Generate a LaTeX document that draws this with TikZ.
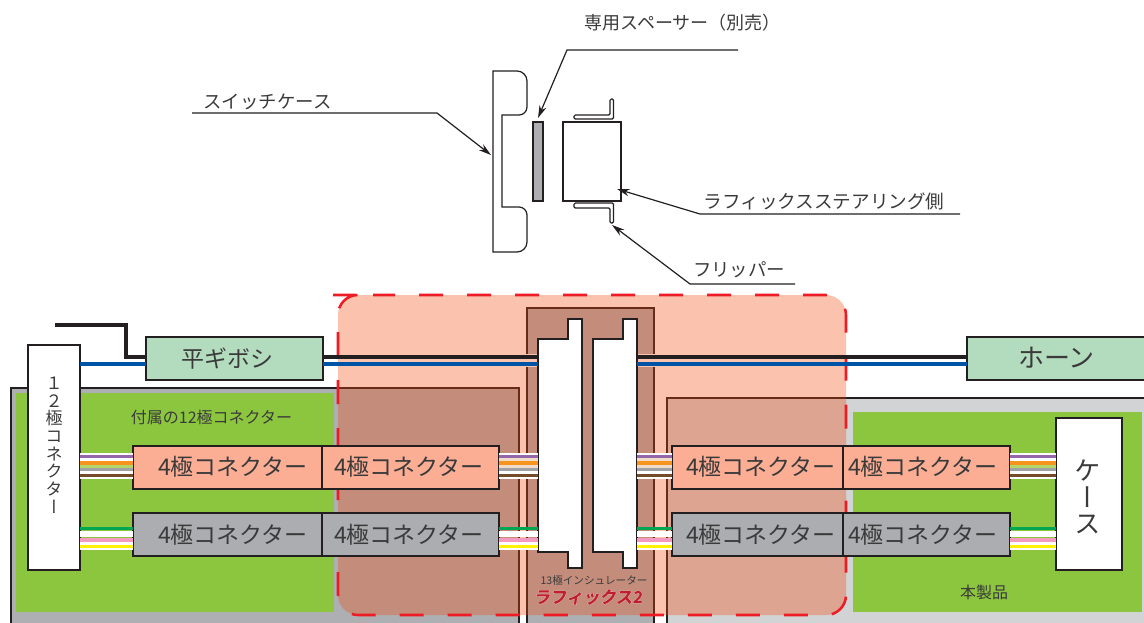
\documentclass[tikz,border=0pt]{standalone}
\usepackage{fontspec}
\usetikzlibrary{arrows.meta}
\pgfdeclarelayer{under}
\pgfsetlayers{under,main}
\setmainfont{Noto Sans CJK JP}
\newfontfamily\jpvert[RawFeature={+vert}]{Noto Sans CJK JP}
\newfontfamily\jplogo[FakeSlant=0.12,FakeBold=0.8]{Noto Sans CJK JP Bold}
\newfontfamily\jphalo[FakeSlant=0.12,FakeBold=3]{Noto Sans CJK JP Bold}
\definecolor{ink}{HTML}{231F20}
\definecolor{txt}{HTML}{3A3A3A}
\definecolor{panelA}{HTML}{ADAFB2}
\definecolor{panelB}{HTML}{D1D3D4}
\definecolor{pcb}{HTML}{8CC63F}
\definecolor{mint}{HTML}{B3DCBF}
\definecolor{salmon}{HTML}{FBAE94}
\definecolor{greybox}{HTML}{ABADB0}
\definecolor{overlay}{HTML}{F34609}
\definecolor{dashred}{HTML}{ED1C24}
\definecolor{logored}{HTML}{BE1E2D}
\definecolor{wpurple}{HTML}{9467AD}
\definecolor{worange}{HTML}{F7941D}
\definecolor{wlime}{HTML}{B5D56A}
\definecolor{wpale}{HTML}{F0DCC8}
\definecolor{wgrey}{HTML}{A0A2A5}
\definecolor{wbrown}{HTML}{754C29}
\definecolor{wgreen}{HTML}{00A651}
\definecolor{wpink}{HTML}{F49AC1}
\definecolor{wyellow}{HTML}{FFF200}
\definecolor{wblue}{HTML}{0054A6}
\newcommand\pxs[1]{\pgfmathparse{#1*0.75}\fontsize{\pgfmathresult pt}{\pgfmathresult pt}\selectfont}
\newcommand\pxbox[7]{%
  \pgfmathsetmacro\bw{(#4-#2)*0.75}\pgfmathsetmacro\bh{(#5-#3)*0.75}%
  \node[#6,minimum width=\bw pt,minimum height=\bh pt] (#1) at ({(#2+#4)/2},{(#3+#5)/2}) {#7};}
\newcommand\wirerow[4]{%
  \foreach \yy/\cc in #3 {\draw[#4,draw=\cc] (#1 |- 0,\yy) -- (#2 |- 0,\yy);}}
\tikzset{
  boxbase/.style={draw=ink,line width=1.2pt,inner sep=0pt,outer sep=0pt,text=txt},
  salmonbox/.style={boxbase,fill=salmon},
  greyconn/.style={boxbase,fill=greybox},
  mintbox/.style={boxbase,fill=mint},
  whitebox/.style={boxbase,fill=white,align=center},
  wire/.style={line width=2.3pt},
  hwire/.style={line width=2.3pt},
  thinline/.style={draw=ink,line width=.9pt},
  callout/.style={thinline,-{Stealth[length=9.5pt,width=5.5pt]}},
  label/.style={text=txt,inner sep=0pt,outer sep=0pt},
  ins/.style={draw=ink,line width=2.2pt,fill=white,line join=miter},
}
\begin{document}
\begin{tikzpicture}[x=.75pt,y=-.75pt]
\useasboundingbox (0,0) rectangle (1144,622);

% top assembly
\draw[thinline] (493,71) -- (517,71) arc[start angle=-90,end angle=0,radius=10] -- (527,107)
  arc[start angle=0,end angle=90,radius=8] -- (502,115) -- (502,207) -- (519,207)
  arc[start angle=-90,end angle=0,radius=8] -- (527,242)
  arc[start angle=0,end angle=90,radius=10] -- (493,252) -- cycle;
\pxbox{spacer}{533}{122}{543}{201}{draw=ink,line width=.9pt,fill=panelA,inner sep=0pt,outer sep=0pt}{}
\pxbox{body}{563}{122}{621}{201}{draw=ink,line width=.9pt,inner sep=0pt,outer sep=0pt}{}
\draw[thinline,rounded corners=1pt] (574,115) -- (610,115) -- (610,99) -- (613.5,99) -- (613.5,119) -- (574,119) -- cycle;
\draw[thinline,rounded corners=1pt] (574,203) -- (613.5,203) -- (613.5,223) -- (610,223) -- (610,208) -- (574,208) -- cycle;

\node[label,font=\pxs{18}] (tSpacer) at (682.5,23) {専用スペーサー（別売）};
\node[label,font=\pxs{18.4}] (tCase) at (267.5,102) {スイッチケース};
\node[label,font=\pxs{18.6}] (tSide) at (824,201) {ラフィックスステアリング側};
\node[label,font=\pxs{18.4}] (tFlip) at (739,270) {フリッパー};

\coordinate (sp0) at (738,50); \coordinate (sp1) at (567,50); \coordinate (spT) at (538,118);
\coordinate (ca0) at (192,113); \coordinate (ca1) at (437,113); \coordinate (caT) at (491,155);
\coordinate (si0) at (960,214); \coordinate (si1) at (700,214); \coordinate (siT) at (617,189);
\coordinate (fl0) at (795,284); \coordinate (fl1) at (690,284); \coordinate (flT) at (612,225);
\draw[callout] (sp0) -- (sp1) -- (spT);
\draw[callout] (ca0) -- (ca1) -- (caT);
\draw[callout] (si0) -- (si1) -- (siT);
\draw[callout] (fl0) -- (fl1) -- (flT);

% nodes
\coordinate (bL) at (538,0); \coordinate (bR) at (637,0);
\pxbox{twelve}{28}{345}{80}{570}{whitebox}{}
\pxbox{caseBox}{1056}{418}{1122}{570}{whitebox}{}
\pxbox{gibo}{146}{337}{323}{380}{mintbox}{}
\pxbox{horn}{967}{337}{1160}{380}{mintbox}{}
\pxbox{a1}{133}{446}{322}{489}{salmonbox}{}
\pxbox{a2}{322}{446}{499}{489}{salmonbox}{}
\pxbox{a3}{672}{446}{843}{489}{salmonbox}{}
\pxbox{a4}{843}{446}{1010}{489}{salmonbox}{}
\pxbox{b1}{133}{513}{322}{556}{greyconn}{}
\pxbox{b2}{322}{513}{499}{556}{greyconn}{}
\pxbox{b3}{672}{513}{843}{556}{greyconn}{}
\pxbox{b4}{843}{513}{1010}{556}{greyconn}{}

\begin{pgfonlayer}{under}
% panels
\pxbox{panelL}{11}{388}{519}{640}{draw=ink,line width=1.3pt,fill=panelA,outer sep=0pt}{}
\pxbox{panelC}{527}{308}{654}{640}{draw=ink,line width=1.3pt,fill=panelA,outer sep=0pt}{}
\pxbox{panelR}{667}{398}{1160}{640}{draw=ink,line width=1.3pt,fill=panelB,outer sep=0pt}{}
\pxbox{pcbL}{16}{393}{334}{612}{fill=pcb,outer sep=0pt}{}
\pxbox{pcbR}{853}{412}{1142}{612}{fill=pcb,outer sep=0pt}{}
% translucent overlay
\fill[white] (gibo.east |- 0,354) rectangle (bL |- 0,367);
\fill[white] (bR |- 0,354) rectangle (horn.west |- 0,367);
\path[fill=overlay,fill opacity=.33,rounded corners=15] (338,295) rectangle (846,615);
\draw[dashred,line width=1.9pt,rounded corners=15,dash pattern=on 18pt off 18pt,dash phase=1.5pt]
  (353,295) -- (846,295) -- (846,615) -- (338,615) -- (338,295) -- cycle;
\end{pgfonlayer}

% insulators
\draw[ins] (538,339) -- (568,339) -- (568,319) -- (582,319) -- (582,568) -- (568,568) -- (568,552) -- (538,552) -- cycle;
\draw[ins] (593,339) -- (623,339) -- (623,319) -- (637,319) -- (637,568) -- (623,568) -- (623,552) -- (593,552) -- cycle;

% signal wires
\def\upperset{454.2/white,459.6/white,472.8/white,477.6/white,456.2/wpurple,463/worange,466.4/wlime,469.6/wgrey,475.6/wbrown}
\def\uppermid{454.2/white,459.6/wpale,466.4/wpale,472.8/white,477.6/white,456.2/wpurple,463/worange,469.6/wgrey,475.6/wbrown}
\def\lowerset{532.5/white,535.5/white,543.5/white,548.6/white,528.5/wgreen,540/wpink,546.5/wyellow}
\foreach \aa/\bb in {twelve.east/a1.west,a4.east/caseBox.west}{\wirerow{\aa}{\bb}{\upperset}{wire}}
\foreach \aa/\bb in {a2.east/bL,bR/a3.west}{\wirerow{\aa}{\bb}{\uppermid}{wire}}
\foreach \aa/\bb in {twelve.east/b1.west,b2.east/bL,bR/b3.west,b4.east/caseBox.west}{\wirerow{\aa}{\bb}{\lowerset}{wire}}

% horn wires
\coordinate (blk0) at (55,325); \coordinate (blk1) at (126,325); \coordinate (blk2) at (126,357);
\draw[ink,hwire,line join=miter] (blk0) -- (blk1) -- (blk2) -- (gibo.west |- blk2);
\draw[wblue,hwire] (twelve.east |- 0,364) -- (gibo.west |- 0,364);
\draw[ink,hwire] (gibo.east |- 0,357) -- (bL |- 0,357);
\draw[wblue,hwire] (gibo.east |- 0,364) -- (bL |- 0,364);
\draw[ink,hwire] (bR |- 0,357) -- (horn.west |- 0,357);
\draw[wblue,hwire] (bR |- 0,364) -- (horn.west |- 0,364);

% texts
\node[label,font=\pxs{23}] (tGibo) at (227.5,359) {平ギボシ};
\node[label,font=\pxs{26}] (tHorn) at (1056.5,358) {ホーン};
\node[label,font=\pxs{23}] (t1) at (233,467) {4極コネクター};
\node[label,font=\pxs{23}] (t2) at (409,467) {4極コネクター};
\node[label,font=\pxs{23}] (t3) at (761,467) {4極コネクター};
\node[label,font=\pxs{23}] (t4) at (923,467) {4極コネクター};
\node[label,font=\pxs{23}] (t5) at (233,535) {4極コネクター};
\node[label,font=\pxs{23}] (t6) at (409,535) {4極コネクター};
\node[label,font=\pxs{23}] (t7) at (761,535) {4極コネクター};
\node[label,font=\pxs{23}] (t8) at (923,535) {4極コネクター};
\node[label,font=\pxs{16}] (tAcc) at (211.5,417) {付属の12極コネクター};
\node[label,font=\pxs{16}] (tProd) at (984,592) {本製品};
\node[label,font=\pxs{10.6}] (tIns) at (594,580) {13極インシュレーター};
\node[label,font=\pxs{16.6}] (tLogo) at (588,597) {\rlap{\jphalo\color{white}ラフィックス2}{\jplogo\color{logored}ラフィックス2}};
\node[label,align=center,font=\jpvert\pxs{17}] (tTwelve) at (54,445)
  {１\\[0.5pt]２\\[0.5pt]極\\[0.5pt]コ\\[0.5pt]ネ\\[0.5pt]ク\\[0.5pt]タ\\[0.5pt]ー};
\node[label,align=center,font=\jpvert\pxs{26.5}] (tCaseV) at (1088,497)
  {ケ\\ー\\ス};
\end{tikzpicture}
\end{document}
